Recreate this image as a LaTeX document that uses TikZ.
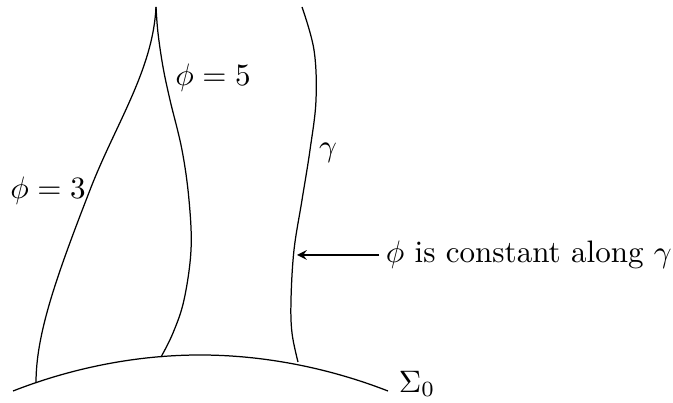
\documentclass[tikz,border=0pt]{standalone}
\usetikzlibrary{arrows}

\begin{document}
\begin{tikzpicture}[
                x=0.322pt,
                y=-0.322pt,
                curve/.style={
                    thin,
                    black
                },
                label/.style={
                    inner sep=2pt,
                    font=\normalsize
                },
                arrow/.style={
                    ->,
                    thin,
                    >=stealth
                }
            ]
                \useasboundingbox (0,0) rectangle (673,403);

                % initial surface
                \draw[curve] (13,391) parabola bend (200,355) (388,391);

                % level curves of phi
                \draw[curve] (36,383) .. controls (36,335) and (55,280) .. (90,190)
                                      .. controls (115,125) and (153,70) .. (156,7);
                \draw[curve] plot[smooth, tension=0.6] coordinates {(161,357) (173,333) (184,300) (191,250) (189,200) (182,150) (170,100) (163,67) (158,33) (156,7)};

                % the curve gamma
                \draw[curve] plot[smooth, tension=0.6] coordinates {(298,362) (292,333) (291,300) (294,250) (302,200) (310,150) (316,100) (314,50) (302,7)};

                \node[label] (phithree) at (48,191) {$\phi=3$};
                \node[label] (phifive) at (213,78) {$\phi=5$};
                \node[label] (gamma) at (328,153) {$\gamma$};
                \node[label] (sigma) at (417,384) {$\Sigma_0$};
                \node[label, anchor=west] (msg) at (379,255) {$\phi$ is constant along $\gamma$};

                \coordinate (tip) at (297,255);
                \draw[arrow] (msg.west) -- (tip);
        \end{tikzpicture}
\end{document}
